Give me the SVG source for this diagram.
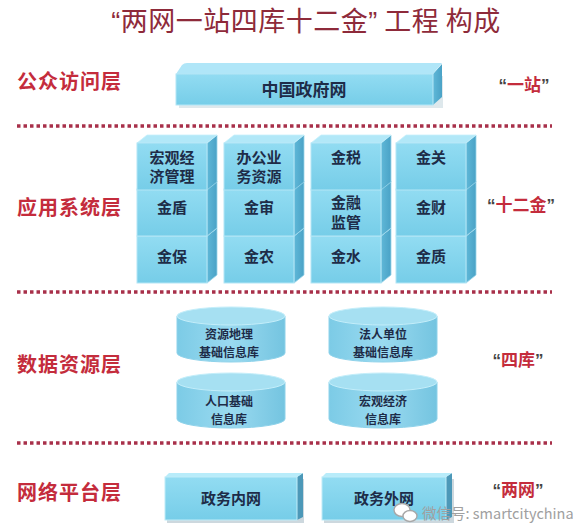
<svg xmlns="http://www.w3.org/2000/svg" xmlns:xlink="http://www.w3.org/1999/xlink" width="588" height="529" viewBox="0 0 588 529">
<style>
.title{font-family:"Noto Sans CJK SC","Noto Sans",sans-serif;font-size:27px;fill:#8e2a3a;text-anchor:middle;letter-spacing:0.5px}
.q{font-family:"Liberation Sans",Arial,sans-serif}
.layer{font-family:"Noto Sans CJK SC",sans-serif;font-size:20px;font-weight:bold;fill:#c42c3c;letter-spacing:1px}
.tag{font-family:"Noto Sans CJK SC",sans-serif;font-size:17px;font-weight:bold;fill:#c42c3c;text-anchor:middle}
.tag .q{fill:#444}
.bt{font-family:"Noto Sans CJK SC",sans-serif;font-size:15px;font-weight:bold;fill:#1e2c48;text-anchor:middle}
.ct{font-family:"Noto Sans CJK SC",sans-serif;font-size:12px;font-weight:bold;fill:#1e2c48;text-anchor:middle}
.sep{stroke:#a8304a;stroke-width:3.5;stroke-dasharray:3.5 3;fill:none}
.wm{font-family:"Noto Sans CJK SC",sans-serif;font-size:14.5px;fill:#a0a0a0}
</style>
<defs>
<linearGradient id="gFront" x1="0" y1="0" x2="0" y2="1">
<stop offset="0" stop-color="#92dcf2"/><stop offset="1" stop-color="#76cde8"/>
</linearGradient>
<linearGradient id="gSide" x1="0" y1="0" x2="1" y2="0">
<stop offset="0" stop-color="#5fb8d8"/><stop offset="1" stop-color="#4aa2c6"/>
</linearGradient>
<linearGradient id="gCyl" x1="0" y1="0" x2="1" y2="0">
<stop offset="0" stop-color="#7ccbe6"/><stop offset="0.5" stop-color="#9adaf0"/><stop offset="1" stop-color="#74c4e0"/>
</linearGradient>
<g id="cube">
<polygon points="70,0 80,-8 80,39 70,47" fill="url(#gSide)" stroke="#9ad6ea" stroke-width="0.8"/>
<polygon points="0,0 10,-8 80,-8 70,0" fill="#b2e8f8" stroke="#c6f0fb" stroke-width="0.8"/>
<rect x="0" y="0" width="70" height="47" fill="url(#gFront)" stroke="#b4e6f6" stroke-width="1"/>
</g>
<g id="cyl">
<path d="M-54,0 L-54,37 A54,9 0 0 0 54,37 L54,0 Z" fill="url(#gCyl)" stroke="#8ed2ea" stroke-width="1"/>
<ellipse cx="0" cy="0" rx="54" ry="9" fill="#a6e0f2" stroke="#c4eefa" stroke-width="1"/>
</g>
</defs>
<rect width="588" height="529" fill="#ffffff"/>

<text class="title" x="306" y="31"><tspan class="q">“</tspan>两网一站四库十二金<tspan class="q">”</tspan> 工程 构成</text>

<g id="labels">
<text class="layer" x="17" y="89">公众访问层</text>
<text class="layer" x="17" y="215">应用系统层</text>
<text class="layer" x="17" y="372">数据资源层</text>
<text class="layer" x="17" y="500">网络平台层</text>
<text class="tag" x="524" y="91"><tspan class="q">“</tspan>一站<tspan class="q">”</tspan></text>
<text class="tag" x="521" y="211"><tspan class="q">“</tspan>十二金<tspan class="q">”</tspan></text>
<text class="tag" x="518" y="366"><tspan class="q">“</tspan>四库<tspan class="q">”</tspan></text>
<text class="tag" x="518" y="496"><tspan class="q">“</tspan>两网<tspan class="q">”</tspan></text>
</g>

<g id="separators">
<line class="sep" x1="17" y1="126" x2="552" y2="126"/>
<line class="sep" x1="17" y1="292" x2="552" y2="292"/>
<line class="sep" x1="17" y1="443" x2="552" y2="443"/>
</g>

<g id="connectors"></g>

<g id="portal">
<rect x="179" y="76" width="264" height="32" fill="#c8d8e0" opacity="0.6"/>
<polygon points="433,74 442,64 442,97 433,105" fill="url(#gSide)"/>
<path d="M176,74 L182,65 Q184,63 187,63 L442,63 L433,74 Z" fill="#b0e6f8"/>
<rect x="176" y="74" width="257" height="31" fill="url(#gFront)" stroke="#b4e6f6" stroke-width="1"/>
<text class="bt" x="304" y="96" style="font-size:17px">中国政府网</text>
</g>

<g id="apps">
<g id="jinbao"><use href="#cube" x="137" y="236"/><text class="bt" x="172" y="262">金保</text></g>
<g id="jinnong"><use href="#cube" x="224" y="236"/><text class="bt" x="259" y="262">金农</text></g>
<g id="jinshui"><use href="#cube" x="311" y="236"/><text class="bt" x="346" y="262">金水</text></g>
<g id="jinzhi"><use href="#cube" x="396" y="236"/><text class="bt" x="431" y="262">金质</text></g>

<g id="jindun"><use href="#cube" x="137" y="189"/><text class="bt" x="172" y="213">金盾</text></g>
<g id="jinshen"><use href="#cube" x="224" y="189"/><text class="bt" x="259" y="213">金审</text></g>
<g id="jinrong"><use href="#cube" x="311" y="189"/><text class="bt" x="346" y="208">金融</text><text class="bt" x="346" y="228">监管</text></g>
<g id="jincai"><use href="#cube" x="396" y="189"/><text class="bt" x="431" y="213">金财</text></g>

<g id="hongguan"><use href="#cube" x="137" y="143"/><text class="bt" x="172" y="163">宏观经</text><text class="bt" x="172" y="182">济管理</text></g>
<g id="bangong"><use href="#cube" x="224" y="143"/><text class="bt" x="259" y="163">办公业</text><text class="bt" x="259" y="182">务资源</text></g>
<g id="jinshui2"><use href="#cube" x="311" y="143"/><text class="bt" x="346" y="163">金税</text></g>
<g id="jinguan"><use href="#cube" x="396" y="143"/><text class="bt" x="431" y="163">金关</text></g>
</g>

<g id="databases">
<g id="db-geo"><use href="#cyl" x="231" y="316"/><text class="ct" x="229" y="339">资源地理</text><text class="ct" x="229" y="357">基础信息库</text></g>
<g id="db-corp"><use href="#cyl" x="383" y="316"/><text class="ct" x="383" y="339">法人单位</text><text class="ct" x="383" y="357">基础信息库</text></g>
<g id="db-pop"><use href="#cyl" x="231" y="382"/><text class="ct" x="229" y="406">人口基础</text><text class="ct" x="229" y="424">信息库</text></g>
<g id="db-macro"><use href="#cyl" x="383" y="382"/><text class="ct" x="383" y="406">宏观经济</text><text class="ct" x="383" y="424">信息库</text></g>
</g>

<g id="intranet">
<rect x="167" y="479" width="137" height="44" fill="#b8c8d0" opacity="0.7"/>
<polygon points="297,477 303,473 303,517 297,520" fill="#4c98b8"/>
<polygon points="165,477 169,473 303,473 297,477" fill="#b8ecfa"/>
<rect x="165" y="477" width="132" height="43" fill="url(#gFront)" stroke="#c0ecf8" stroke-width="1"/>
<text class="bt" x="231" y="504">政务内网</text>
</g>
<g id="extranet">
<rect x="324" y="479" width="130" height="44" fill="#b8c8d0" opacity="0.7"/>
<polygon points="446,477 452,473 452,517 446,520" fill="#4c98b8"/>
<polygon points="322,477 326,473 452,473 446,477" fill="#b8ecfa"/>
<rect x="322" y="477" width="124" height="43" fill="url(#gFront)" stroke="#c0ecf8" stroke-width="1"/>
<text class="bt" x="384" y="504">政务外网</text>
</g>

<g id="watermark">
<ellipse cx="402" cy="510" rx="8" ry="6.5" fill="#ffffff" stroke="#a8a8a8" stroke-width="1.4"/>
<ellipse cx="410" cy="516" rx="7" ry="5.5" fill="#ffffff" stroke="#a8a8a8" stroke-width="1.4"/>
<text class="wm" x="422" y="519">微信号: smartcitychina</text>
</g>
</svg>
